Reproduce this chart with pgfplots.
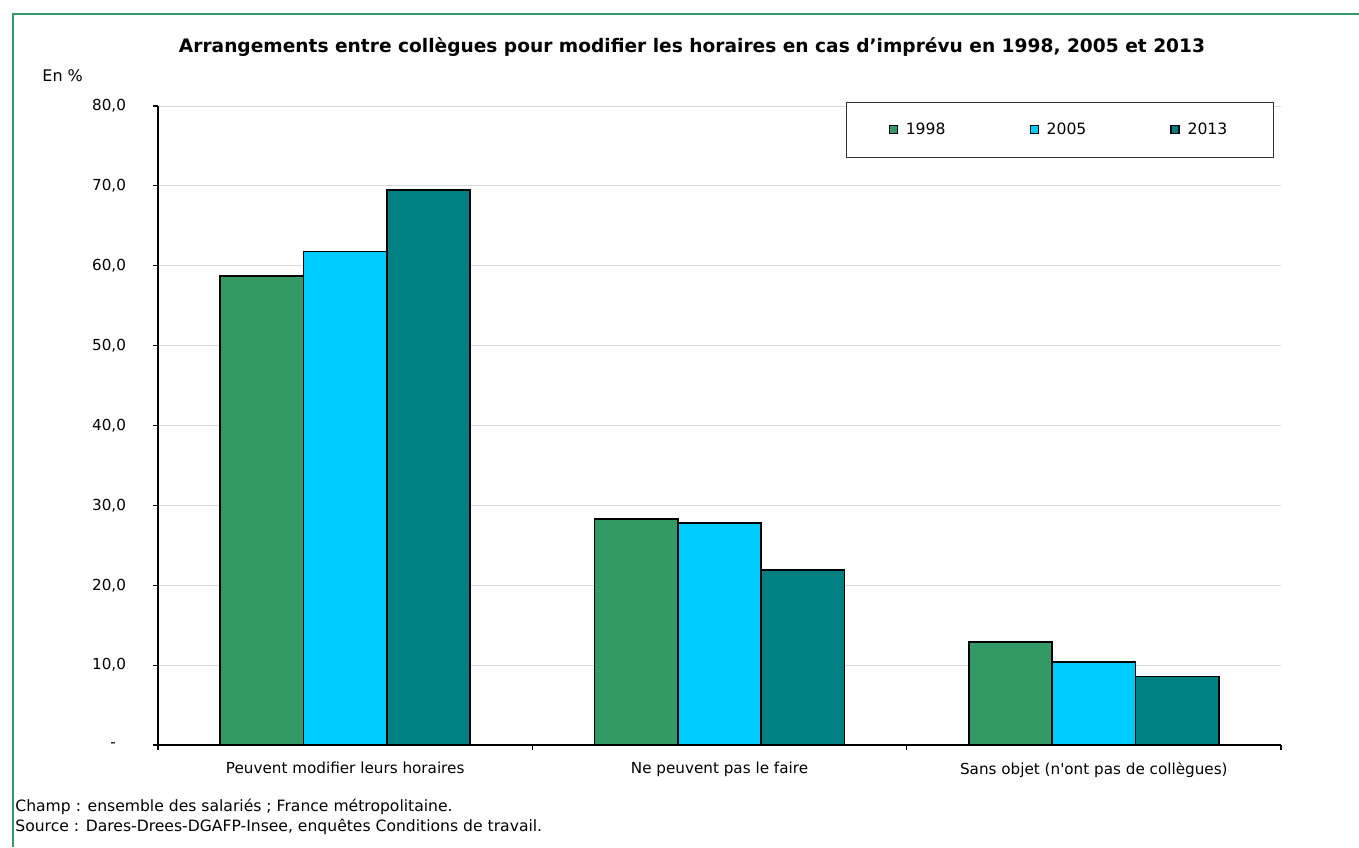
\documentclass[border=0pt]{standalone}
\usepackage{fontspec}
\setmainfont{DejaVu Sans}
\usepackage{pgfplots}
\pgfplotsset{compat=1.18}
\definecolor{c98}{HTML}{339966}
\definecolor{c05}{HTML}{00CCFF}
\definecolor{c13}{HTML}{008080}
\definecolor{gridc}{HTML}{D9D9D9}

\begin{document}
\begin{tikzpicture}
\useasboundingbox (-79pt,-51pt) rectangle (600.5pt,372.5pt);
% cadre vert (gauche et haut)
\draw[c98, line width=1pt] (-72.5pt,-51pt) -- (-72.5pt,365.5pt) -- (600.5pt,365.5pt);
\node[font=\bfseries\fontsize{9.3}{11}\selectfont] at (267pt,349pt)
  {Arrangements entre collègues pour modifier les horaires en cas d’imprévu en 1998, 2005 et 2013};
\node[anchor=west, inner sep=0pt, font=\fontsize{8}{9}\selectfont] at (-58pt,334.5pt) {En \%};
\begin{axis}[
  at={(0pt,0pt)}, anchor=south west,
  scale only axis,
  width=561.5pt, height=319.5pt,
  ybar=0pt,
  bar width=0.2226,
  xmin=-0.5, xmax=2.5,
  ymin=0, ymax=80,
  axis x line*=bottom, axis y line*=left,
  axis line style={black, line width=0.6pt},
  tick align=outside,
  major tick length=2.5pt,
  tick style={black, line width=0.6pt},
  xtick={-0.5,0.5,1.5,2.5},
  xticklabels={},
  extra x ticks={0,1,2},
  extra x tick labels={Peuvent modifier leurs horaires, Ne peuvent pas le faire, Sans objet (n\textquotesingle ont pas de collègues)},
  extra x tick style={major tick length=0pt, xticklabel style={yshift=-5pt}},
  ytick={0,10,...,80},
  yticklabels={{-\kern5pt},{10,0},{20,0},{30,0},{40,0},{50,0},{60,0},{70,0},{80,0}},
  yticklabel style={xshift=-10pt},
  ymajorgrids,
  major grid style={gridc, line width=0.5pt},
  tick label style={font=\fontsize{7.6}{9}\selectfont},
  legend columns=3,
  legend style={at={(rel axis cs:0.9937,1.0063)}, anchor=north east,
    draw=black!80, line width=0.6pt, font=\fontsize{7.8}{9}\selectfont,
    inner xsep=21pt, inner ysep=8pt,
    /tikz/every odd column/.append style={column sep=2pt},
    /tikz/every even column/.append style={column sep=40pt}},
  legend image code/.code={\draw[#1, draw=black, line width=0.6pt] (0pt,-2pt) rectangle (4pt,2pt);},
]
\addplot[fill=c98, draw=black, line width=0.8pt] coordinates {(0,58.7) (1,28.3) (2,12.9)};
\addplot[fill=c05, draw=black, line width=0.8pt] coordinates {(0,61.8) (1,27.8) (2,10.4)};
\addplot[fill=c13, draw=black, line width=0.8pt] coordinates {(0,69.5) (1,21.9) (2,8.6)};
\legend{1998,2005,2013}
\end{axis}
\node[anchor=base west, inner sep=0pt, font=\fontsize{7.8}{9}\selectfont] at (-71.5pt,-33pt) {Champ : ensemble des salariés ; France métropolitaine.};
\node[anchor=base west, inner sep=0pt, font=\fontsize{7.8}{9}\selectfont] at (-71.5pt,-43pt) {Source : Dares-Drees-DGAFP-Insee, enquêtes Conditions de travail.};
\end{tikzpicture}
\end{document}
